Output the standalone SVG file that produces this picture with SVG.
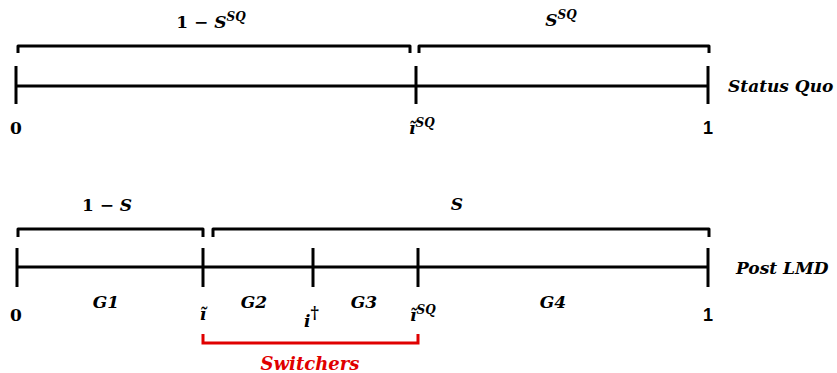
<svg xmlns="http://www.w3.org/2000/svg" width="837" height="373" viewBox="0 0 837 373">
<style>
.ln{stroke:#000;stroke-width:3;fill:none}
.br{stroke:#000;stroke-width:3;fill:none;stroke-linejoin:round}
.red{stroke:#e00000;stroke-width:3;fill:none}
.t{font-family:"DejaVu Serif","Liberation Serif",serif;font-weight:bold;font-style:italic;font-size:17px;fill:#000}
.n{font-family:"DejaVu Serif","Liberation Serif",serif;font-weight:bold;font-size:17px;fill:#000}
.s{font-family:"Liberation Sans",sans-serif;font-weight:bold;font-size:18px;fill:#000}
.sup{font-size:12px}
</style>
<rect width="837" height="373" fill="#fff"/>
<g id="connectors">
<line class="ln" x1="16" y1="86" x2="708" y2="86"/>
<line class="ln" x1="17" y1="267" x2="708" y2="267"/>
<path class="red" d="M203,334 V343 H418 V334"/>
</g>
<g id="sq-ticks">
<line class="ln" x1="16" y1="66" x2="16" y2="104"/>
<line class="ln" x1="416" y1="66" x2="416" y2="104"/>
<line class="ln" x1="708" y1="66" x2="708" y2="104"/>
</g>
<g id="sq-braces">
<path class="br" d="M18,53 V46 H410 V53"/>
<path class="br" d="M419,53 V46 H709 V53"/>
<text class="t" x="211" y="28" text-anchor="middle"><tspan font-style="normal">1 − </tspan>S<tspan class="sup" dy="-7">SQ</tspan></text>
<text class="t" x="561" y="26" text-anchor="middle">S<tspan class="sup" dy="-7">SQ</tspan></text>
</g>
<g id="sq-labels">
<text class="n" x="16" y="134" text-anchor="middle">0</text>
<text class="t" x="409" y="134">ĩ<tspan class="sup" dy="-7">SQ</tspan></text>
<text class="s" x="708" y="134" text-anchor="middle">1</text>
<text class="t" x="728" y="92">Status Quo</text>
</g>
<g id="lmd-ticks">
<line class="ln" x1="17" y1="248" x2="17" y2="287"/>
<line class="ln" x1="203" y1="248" x2="203" y2="287"/>
<line class="ln" x1="313" y1="248" x2="313" y2="287"/>
<line class="ln" x1="418" y1="248" x2="418" y2="287"/>
<line class="ln" x1="708" y1="248" x2="708" y2="287"/>
</g>
<g id="lmd-braces">
<path class="br" d="M18,237 V229 H203 V237"/>
<path class="br" d="M213,237 V229 H709 V237"/>
<text class="t" x="107" y="211" text-anchor="middle"><tspan font-style="normal">1 − </tspan>S</text>
<text class="t" x="457" y="210" text-anchor="middle">S</text>
</g>
<g id="lmd-labels">
<text class="t" x="106" y="308" text-anchor="middle">G1</text>
<text class="t" x="254" y="308" text-anchor="middle">G2</text>
<text class="t" x="364" y="308" text-anchor="middle">G3</text>
<text class="t" x="553" y="308" text-anchor="middle">G4</text>
<text class="n" x="16" y="321" text-anchor="middle">0</text>
<text class="t" x="203" y="320" text-anchor="middle">ĩ</text>
<text class="t" x="304" y="327" font-size="19">i<tspan font-size="16" dy="-9" font-style="normal">†</tspan></text>
<text class="t" x="410" y="321">ĩ<tspan class="sup" dy="-7">SQ</tspan></text>
<text class="s" x="708" y="321" text-anchor="middle">1</text>
<text class="t" x="736" y="274">Post LMD</text>
</g>
<g id="switchers">
<text class="t" x="310" y="370" text-anchor="middle" style="fill:#e00000;font-size:18px">Switchers</text>
</g>
</svg>
